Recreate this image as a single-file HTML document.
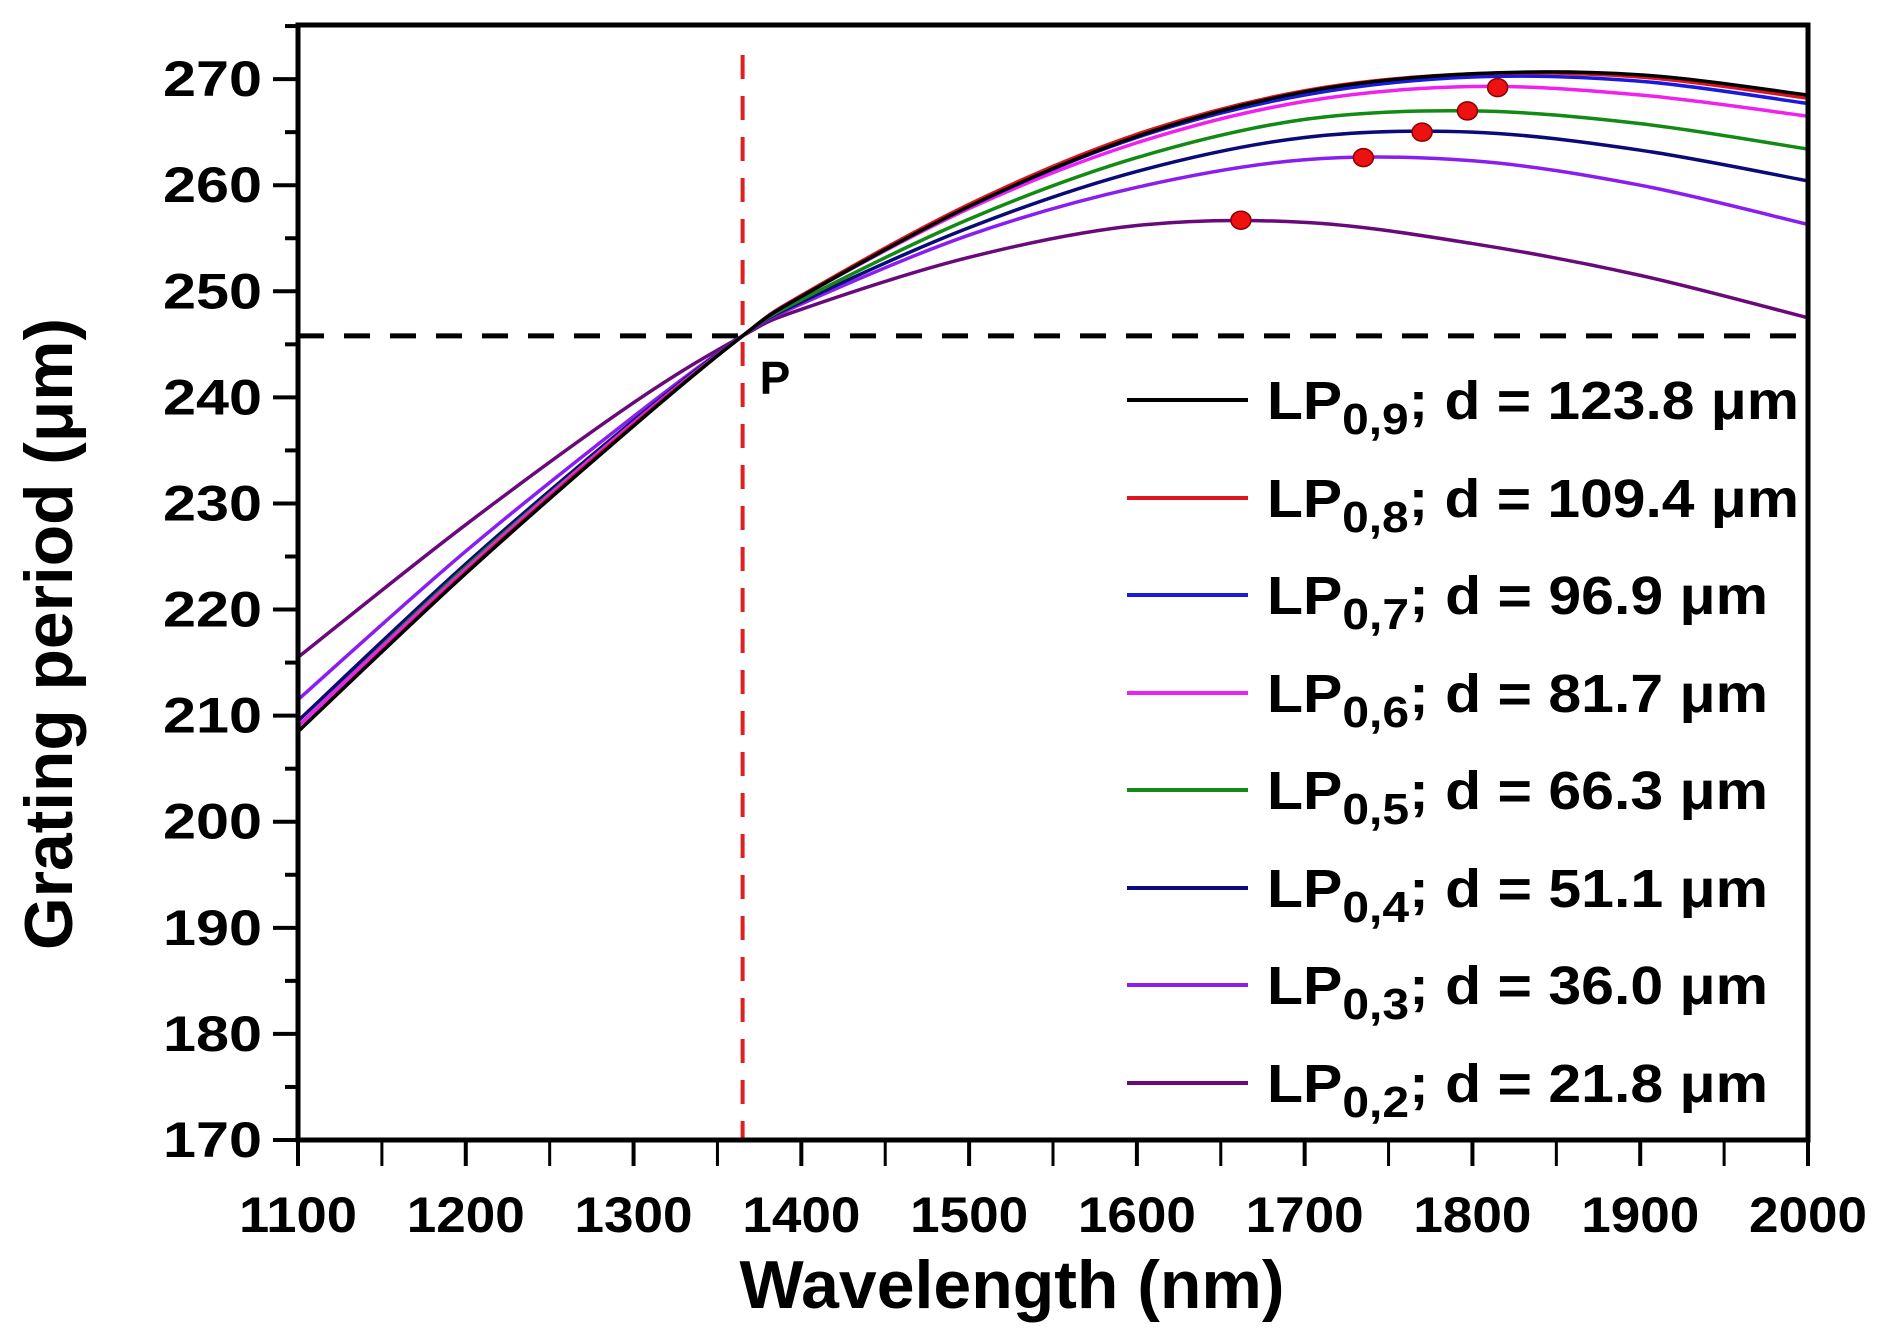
<!DOCTYPE html>
<html><head><meta charset="utf-8"><style>
html,body{margin:0;padding:0;background:#fff;}
svg{display:block;font-family:"Liberation Sans",Arial,sans-serif;font-weight:bold;}
</style></head><body>
<svg id="chart" width="1886" height="1336" viewBox="0 0 1886 1336">
<g id="plot"></g>
<g id="axes"></g>
<g id="legend"></g>
</svg>
<script>
const wavelengths=[1100,1200,1300,1365,1400,1500,1600,1700,1800,1900,2000];
const seriesNames=["LP0,9","LP0,8","LP0,7","LP0,6","LP0,5","LP0,4","LP0,3","LP0,2"];
const seriesD=["123.8","109.4","96.9","81.7","66.3","51.1","36.0","21.8"];
const seriesColors=["#000000","#e0141e","#1a1adc","#f020f0","#138a13","#0a0a78","#8a1ef0","#6a0a7a"];
const lp09=[208.5,223.4,237.3,245.8,249.5,258.0,264.6,268.8,270.5,270.4,268.5];
const lp08=[208.5,223.5,237.4,245.8,249.6,258.2,264.8,268.9,270.5,270.2,268.2];
const lp07=[208.5,223.5,237.4,245.8,249.6,258.0,264.5,268.5,270.2,269.8,267.7];
const lp06=[209.0,223.8,237.6,245.8,249.5,257.8,264.0,267.9,269.3,268.5,266.5];
const lp05=[209.0,224.0,237.6,245.8,249.2,256.8,262.6,266.2,267.0,265.8,263.4];
const lp04=[209.5,224.3,237.8,245.8,249.0,256.0,261.3,264.5,265.0,263.3,260.4];
const lp03=[211.5,225.5,238.2,245.8,248.8,255.3,259.8,262.4,262.3,260.0,256.3];
const lp02=[215.5,228.0,239.5,245.8,248.3,253.2,256.2,256.5,254.5,251.5,247.5];
const peakX=[1662,1735,1770,1797,1815];
const peakY=[256.7,262.6,265.0,267.0,269.2];
const pointX=[1365];
const pointY=[245.8];
const xTicks=[1100,1200,1300,1400,1500,1600,1700,1800,1900,2000];
const yTicks=[170,180,190,200,210,220,230,240,250,260,270];

const allSeries=[lp09,lp08,lp07,lp06,lp05,lp04,lp03,lp02];
const X0=298,X1=1808,Y0=1140,Y1=25;
const xMin=1100,xMax=2000,yMin=170,yMax=275.1;
const sx=v=>X0+(v-xMin)/(xMax-xMin)*(X1-X0);
const sy=v=>Y0-(v-yMin)/(yMax-yMin)*(Y0-Y1);
const NS="http://www.w3.org/2000/svg";
function mk(tag,attrs,parent){const e=document.createElementNS(NS,tag);for(const k in attrs)e.setAttribute(k,attrs[k]);parent.appendChild(e);return e;}
const plot=document.getElementById('plot'),axes=document.getElementById('axes'),legend=document.getElementById('legend');

function smoothPath(xs,ys){
  const p=xs.map((x,i)=>[sx(x),sy(ys[i])]);
  let d=`M${p[0][0]},${p[0][1]}`;
  for(let i=0;i<p.length-1;i++){
    const p0=p[i-1]||p[i],p1=p[i],p2=p[i+1],p3=p[i+2]||p2;
    const c1=[p1[0]+(p2[0]-p0[0])/6,p1[1]+(p2[1]-p0[1])/6];
    const c2=[p2[0]-(p3[0]-p1[0])/6,p2[1]-(p3[1]-p1[1])/6];
    d+=` C${c1[0]},${c1[1]} ${c2[0]},${c2[1]} ${p2[0]},${p2[1]}`;
  }
  return d;
}
const hl=mk('line',{x1:X0,x2:X1,y1:sy(pointY[0]),y2:sy(pointY[0]),stroke:'#000','stroke-width':5,'stroke-dasharray':'26 20'},plot);


const vl=mk('line',{x1:sx(pointX[0]),x2:sx(pointX[0]),y1:Y1+30,y2:Y0,stroke:'#e02020','stroke-width':4,'stroke-dasharray':'24 17'},plot);


for(let i=allSeries.length-1;i>=0;i--){
  const pth=mk('path',{d:smoothPath(wavelengths,allSeries[i]),fill:'none',stroke:seriesColors[i],'stroke-width':3.5},plot);
  
  
}
for(let i=0;i<peakX.length;i++){
  const c=mk('ellipse',{cx:sx(peakX[i]),cy:sy(peakY[i]),rx:10,ry:9,fill:'#ee1111',stroke:'#800','stroke-width':1.5},plot);
  
  
}
const pl=mk('text',{x:sx(pointX[0])+17,y:sy(pointY[0])+58,'font-size':46},plot);
pl.textContent='P';



const fr=mk('rect',{x:X0,y:Y1,width:X1-X0,height:Y0-Y1,fill:'none',stroke:'#000','stroke-width':5},axes);


for(let v=1100;v<=2000;v+=50){
  const major=v%100===0;
  const t=mk('line',{x1:sx(v),x2:sx(v),y1:Y0,y2:Y0+26,stroke:'#000','stroke-width':major?4:3},axes);
  
  
}
xTicks.forEach(v=>{
  const t=mk('text',{x:sx(v),y:1232,'font-size':50,'text-anchor':'middle',textLength:118,lengthAdjust:'spacingAndGlyphs'},axes);
  t.textContent=v;
  
  
});
for(let v=170;v<=275;v+=5){
  const major=v%10===0;
  const t=mk('line',{x1:X0-(major?25:13),x2:X0,y1:sy(v),y2:sy(v),stroke:'#000','stroke-width':4},axes);
  
  
}
yTicks.forEach(v=>{
  const t=mk('text',{x:262,y:sy(v)+17,'font-size':50,'text-anchor':'end',textLength:99,lengthAdjust:'spacingAndGlyphs'},axes);
  t.textContent=v;
  
  
});
const xt=mk('text',{x:1012,y:1308,'font-size':68,'text-anchor':'middle',textLength:545,lengthAdjust:'spacingAndGlyphs'},axes);
xt.textContent='Wavelength (nm)';


const yt=mk('text',{x:0,y:0,'font-size':68,'text-anchor':'middle',textLength:632,lengthAdjust:'spacingAndGlyphs',transform:'translate(72,634) rotate(-90)'},axes);
yt.textContent='Grating period (\u03bcm)';



const legY=[400,498,595,693,790,888,985,1083];
seriesNames.forEach((n,i)=>{
  const g=mk('g',{},legend);
  
  
  mk('line',{x1:1127,x2:1248,y1:legY[i],y2:legY[i],stroke:seriesColors[i],'stroke-width':4},g);
  const long=seriesD[i].length>4;
  const t=mk('text',{x:1267,y:legY[i]+19,'font-size':54,textLength:long?532:501,lengthAdjust:'spacingAndGlyphs'},g);
  const a=mk('tspan',{},t);a.textContent='LP';
  const s=mk('tspan',{dy:15,'font-size':44},t);s.textContent=n.slice(2);
  const r=mk('tspan',{dy:-15},t);r.textContent='; d = '+seriesD[i]+' \u03bcm';
});
</script>
</body></html>
